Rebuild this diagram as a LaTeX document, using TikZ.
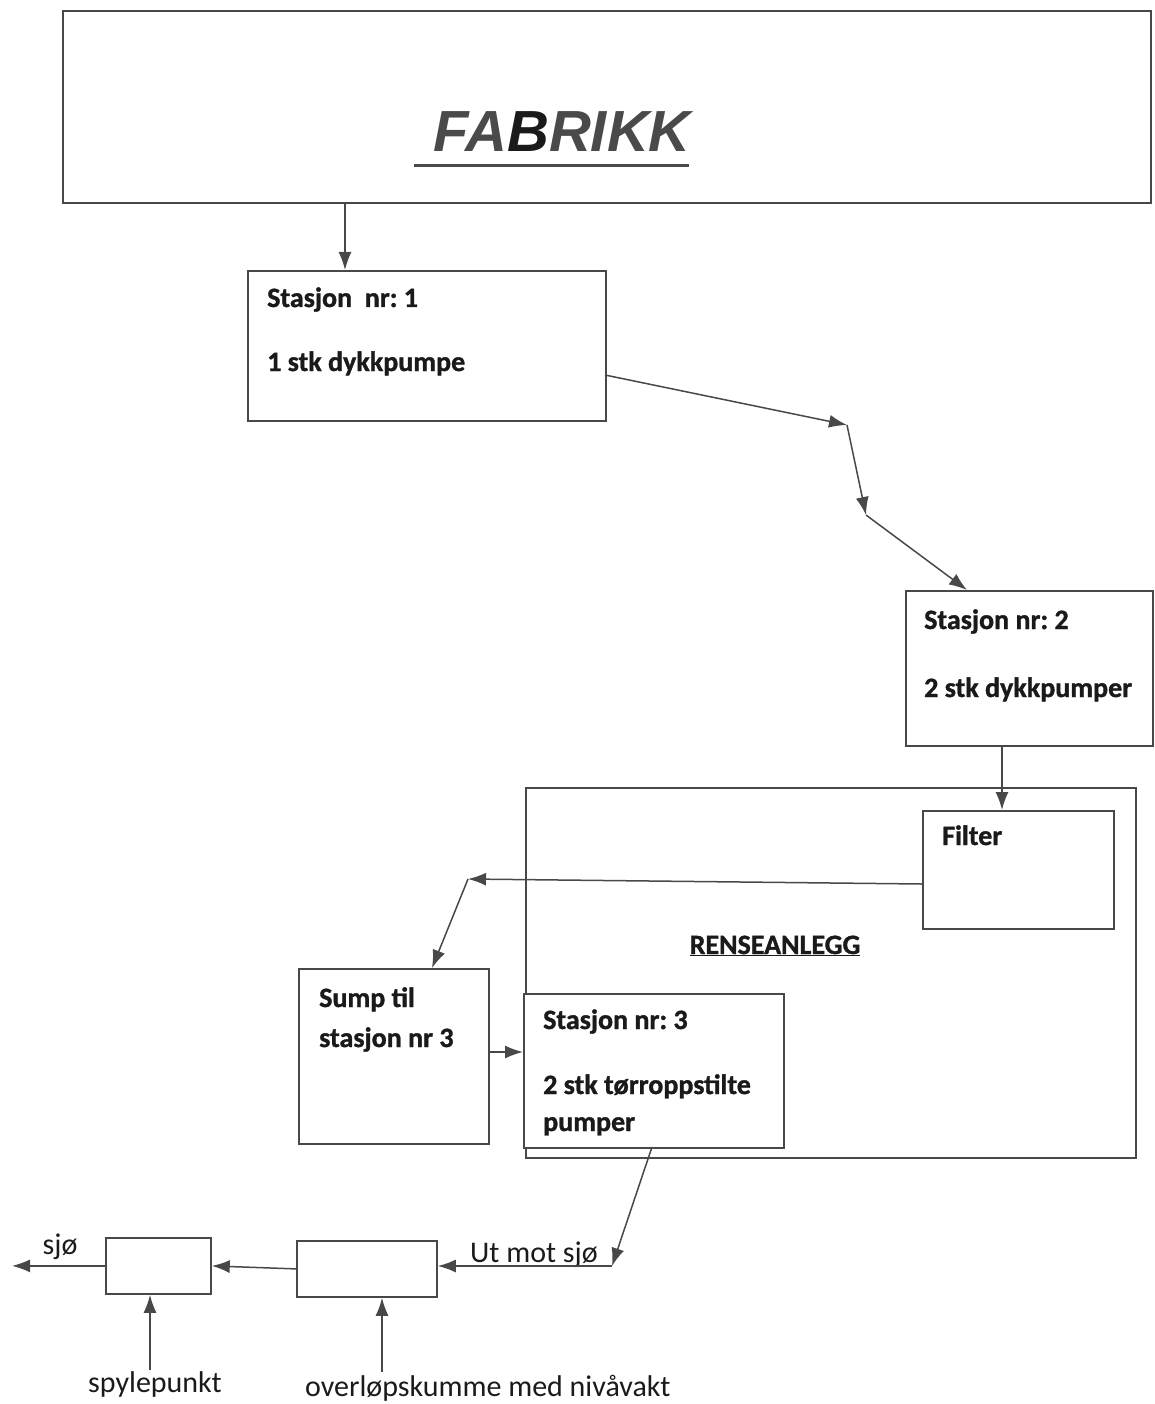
\documentclass[tikz,border=0pt]{standalone}
\usepackage{fontspec}
\setmainfont{Carlito}[BoldFeatures={FakeBold=1.2}]
\newfontfamily\titlefont{Liberation Sans}
\usetikzlibrary{arrows.meta}
\definecolor{linegray}{HTML}{484848}
\definecolor{inkblack}{HTML}{1A1A1A}
\definecolor{titlegray}{HTML}{4A4A4A}
\frenchspacing

\begin{document}
\begin{tikzpicture}[x=1pt, y=-1pt]
    % Styles
    \tikzstyle{box} = [rectangle, draw=linegray, line width=1.8pt, anchor=north west, inner sep=0pt]
    \tikzstyle{arrow} = [-{Latex[length=18pt, width=13pt]}, draw=linegray, line width=1.5pt]
    \tikzstyle{txt} = [anchor=base west, inner sep=0pt, text=inkblack, font=\fontsize{28}{32}\selectfont\bfseries]
    \tikzstyle{note} = [inner sep=0pt, text=inkblack, font=\fontsize{30}{34}\selectfont]

    \useasboundingbox (0,0) rectangle (1154,1404);

    % Boxes
    \node[box, minimum width=1088pt, minimum height=192pt] (fab) at (62,10) {};
    \node[box, minimum width=358pt, minimum height=150pt] (st1) at (247,270) {};
    \node[box, minimum width=247pt, minimum height=155pt] (st2) at (905,590) {};
    \node[box, minimum width=610pt, minimum height=370pt] (rens) at (525,787) {};
    \node[box, minimum width=191pt, minimum height=118pt] (filter) at (922,810) {};
    \node[box, minimum width=190pt, minimum height=175pt] (sump) at (298,968) {};
    \node[box, minimum width=260pt, minimum height=154pt, fill=white] (st3) at (523,993) {};
    \node[box, minimum width=140pt, minimum height=56pt] (overlop) at (296,1240) {};
    \node[box, minimum width=105pt, minimum height=56pt] (spyle) at (105,1237) {};

    % Texts
    \node[anchor=base, inner sep=0pt, text=titlegray, font=\titlefont\fontsize{58}{64}\selectfont\bfseries\itshape] (fabtxt) at (562,152) {FA{\color{inkblack}B}RIKK};
    \draw[titlegray, line width=3pt] ([xshift=-19pt, yshift=-14pt]fabtxt.base west) -- ([xshift=-2pt, yshift=-14pt]fabtxt.base east);
    \node[txt] (st1a) at (267,307) {Stasjon\ \ nr: 1};
    \node[txt] (st1b) at (267,371) {1 stk dykkpumpe};
    \node[txt] (st2a) at (924,629) {Stasjon nr: 2};
    \node[txt] (st2b) at (924,697) {2 stk dykkpumper};
    \node[txt] (filtera) at (942,845) {Filter};
    \node[txt, anchor=base] (renstxt) at (775,954) {\underline{RENSEANLEGG}};
    \node[txt] (sumpa) at (319,1007) {Sump til};
    \node[txt] (sumpb) at (319,1047) {stasjon nr 3};
    \node[txt] (st3a) at (543,1029) {Stasjon nr: 3};
    \node[txt] (st3b) at (543,1094) {2 stk tørroppstilte};
    \node[txt] (st3c) at (543,1131) {pumper};
    \node[note, anchor=base west] (uttxt) at (470,1262) {Ut mot sjø};
    \node[note, anchor=base] (sjotxt) at (60,1254) {sjø};
    \node[note, anchor=base] (spyletxt) at (155,1392) {spylepunkt};
    \node[note, anchor=base west] (overloptxt) at (305,1396) {overløpskumme med nivåvakt};

    % Bend points
    \coordinate (fabout) at (345,202);
    \coordinate (st1out) at (605,375);
    \coordinate (bend1) at (847,425);
    \coordinate (bend2) at (866,515);
    \coordinate (st2in) at (967,590);
    \coordinate (st2out) at (1002,745);
    \coordinate (filterout) at (922,884);
    \coordinate (bend3) at (468,879);
    \coordinate (sumpin) at (432,968);
    \coordinate (sumpout) at (488,1052);
    \coordinate (st3out) at (652,1147);
    \coordinate (bend4) at (612,1266);
    \coordinate (sea) at (12,1262);
    \coordinate (spyleup) at (150,1370);
    \coordinate (overlopup) at (382,1372);

    % Arrows
    \draw[arrow] (fabout) -- (fabout |- st1.north);
    \draw[arrow] (st1out) -- (bend1);
    \draw[arrow] (bend1) -- (bend2);
    \draw[arrow] (bend2) -- (st2in);
    \draw[arrow] (st2out) -- (st2out |- filter.north);
    \draw[arrow] (filterout) -- (bend3);
    \draw[arrow] (bend3) -- (sumpin);
    \draw[arrow] (sumpout) -- (sumpout -| st3.west);
    \draw[arrow] (st3out) -- (bend4);
    \draw[arrow] (bend4) -- (bend4 -| overlop.east);
    \draw[arrow] (overlop.west) -- (spyle.east);
    \draw[arrow] (spyle.west) -- (spyle.west -| sea);
    \draw[arrow] (spyleup) -- (spyleup |- spyle.south);
    \draw[arrow] (overlopup) -- (overlopup |- overlop.south);
\end{tikzpicture}
\end{document}
